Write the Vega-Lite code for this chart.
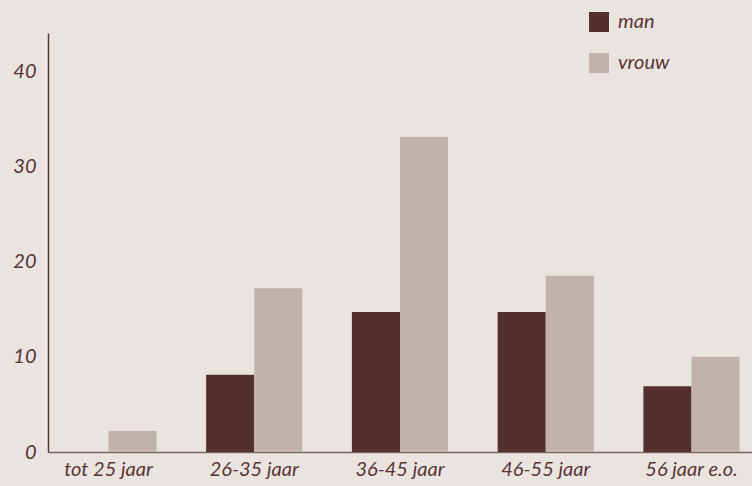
{
  "$schema": "https://vega.github.io/schema/vega-lite/v6.json",
  "width": 704,
  "height": 419,
  "autosize": {"type": "none"},
  "padding": {"left": 48, "top": 33, "right": 0, "bottom": 34},
  "background": "#eae4e1",
  "config": {
    "view": {"stroke": null},
    "font": "Lato",
    "axis": {"labelFont": "Lato", "labelFontStyle": "italic", "labelColor": "#5a3535", "labelFontSize": 20}
  },
  "data": {
    "values": [
      {"groep": "tot 25 jaar", "geslacht": "man", "waarde": 0},
      {"groep": "tot 25 jaar", "geslacht": "vrouw", "waarde": 2.2},
      {"groep": "26-35 jaar", "geslacht": "man", "waarde": 8.1},
      {"groep": "26-35 jaar", "geslacht": "vrouw", "waarde": 17.2},
      {"groep": "36-45 jaar", "geslacht": "man", "waarde": 14.7},
      {"groep": "36-45 jaar", "geslacht": "vrouw", "waarde": 33.1},
      {"groep": "46-55 jaar", "geslacht": "man", "waarde": 14.7},
      {"groep": "46-55 jaar", "geslacht": "vrouw", "waarde": 18.5},
      {"groep": "56 jaar e.o.", "geslacht": "man", "waarde": 6.9},
      {"groep": "56 jaar e.o.", "geslacht": "vrouw", "waarde": 10.0}
    ]
  },
  "mark": {"type": "bar"},
  "encoding": {
    "x": {
      "field": "groep", "type": "nominal", "sort": null, "title": null,
      "scale": {"paddingInner": 0.34, "paddingOuter": 0.085},
      "axis": {"labelAngle": 0, "ticks": false, "domainColor": "#7d6464", "domainWidth": 1.5, "labelPadding": 7}
    },
    "xOffset": {"field": "geslacht", "type": "nominal", "scale": {"paddingInner": 0, "paddingOuter": 0}},
    "y": {
      "field": "waarde", "type": "quantitative", "title": null,
      "scale": {"domain": [0, 44], "nice": false},
      "axis": {"values": [0, 10, 20, 30, 40], "grid": false, "ticks": false, "domainColor": "#5a3535", "domainWidth": 1.5, "labelPadding": 12}
    },
    "color": {
      "field": "geslacht", "type": "nominal", "title": null,
      "scale": {"domain": ["man", "vrouw"], "range": ["#532f2e", "#c2b2ae"]},
      "legend": {
        "orient": "none", "legendX": 541, "legendY": -21,
        "symbolType": "square", "symbolSize": 400, "symbolStrokeWidth": 0,
        "labelFont": "Lato", "labelFontStyle": "italic", "labelFontSize": 20, "labelColor": "#5a3535",
        "rowPadding": 21, "labelOffset": 9
      }
    }
  }
}
